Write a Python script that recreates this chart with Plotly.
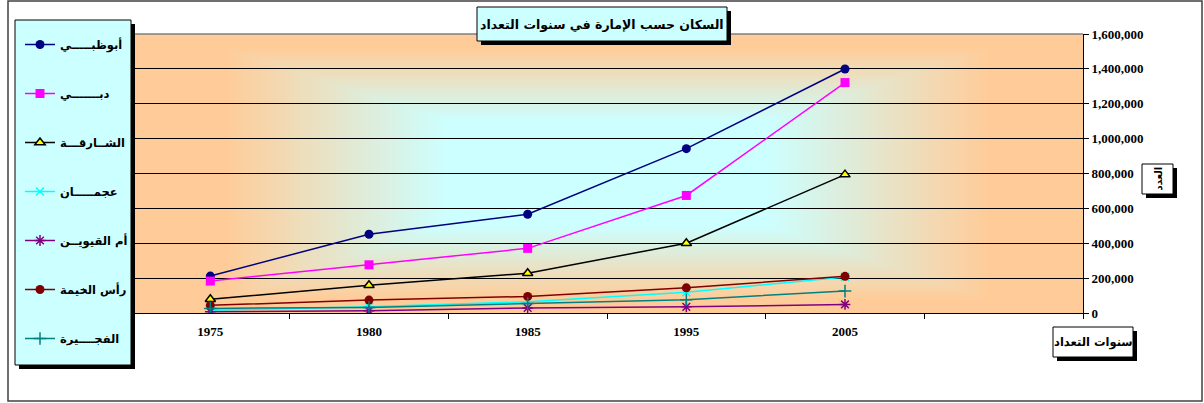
import base64, struct, zlib
import numpy as np
import plotly.graph_objects as go

# ---------------- data ----------------
years = ["1975", "1980", "1985", "1995", "2005"]
x_categories = ["1975", "1980", "1985", "1995", "2005", " "]

abu_dhabi = [211812, 451848, 566036, 942463, 1399484]
dubai = [183187, 276301, 370788, 674101, 1321453]
sharjah = [78790, 159317, 228000, 400339, 793573]
ajman = [16000, 36100, 64318, 118812, 206997]
umm_al_quwain = [6908, 12426, 29229, 35157, 49159]
ras_al_khaimah = [43845, 73918, 95000, 144430, 210063]
fujairah = [26498, 32189, 54425, 76254, 125698]

series_names = ["أبوظبـــــي", "دبـــــــي", "الشــارقـــة", "عجمـــــان",
                "أم القيويــن", "رأس الخيمة", "الفجــــيرة"]

title_text = "السكان حسب الإمارة في سنوات التعداد"
x_title = "سنوات التعداد"
y_title = "العدد"

# ---------------- geometry (pixels) ----------------
W, H = 1204, 403
PL, PR, PT, PB = 131, 1083, 34, 313   # plot area
PW, PH = PR - PL, PB - PT


def px(xp):
    return (xp - PL) / PW


def py(yp):
    return (PB - yp) / PH


# ---------------- gradient background image ----------------
def make_png(arr):
    h, w, _ = arr.shape
    raw = b"".join(b"\x00" + arr[i].tobytes() for i in range(h))

    def chunk(tag, data):
        c = struct.pack(">I", len(data)) + tag + data
        return c + struct.pack(">I", zlib.crc32(tag + data) & 0xFFFFFFFF)

    png = b"\x89PNG\r\n\x1a\n"
    png += chunk(b"IHDR", struct.pack(">IIBBBBB", w, h, 8, 2, 0, 0, 0))
    png += chunk(b"IDAT", zlib.compress(raw, 9))
    png += chunk(b"IEND", b"")
    return png


center_col = np.array([204, 255, 255], dtype=float)
edge_col = np.array([255, 204, 153], dtype=float)
gx = np.linspace(-1, 1, PW)
gy = np.linspace(-1, 1, PH)
U, V = np.meshgrid(gx, gy)
m = np.maximum(np.abs(U) / 0.80, np.abs(V) / 0.90)
t = np.clip((m - 0.42) / 0.58, 0, 1)
img = (center_col[None, None, :] * (1 - t[..., None]) + edge_col[None, None, :] * t[..., None])
img = np.clip(img + 0.5, 0, 255).astype(np.uint8)
img_uri = "data:image/png;base64," + base64.b64encode(make_png(img)).decode()

# ---------------- traces ----------------
styles = [
    dict(line=dict(color="#000080", width=1.5),
         marker=dict(symbol="circle", size=9, color="#000080")),
    dict(line=dict(color="#FF00FF", width=1.5),
         marker=dict(symbol="square", size=9, color="#FF00FF")),
    dict(line=dict(color="#000000", width=1.5),
         marker=dict(symbol="triangle-up", size=9, color="#FFFF00",
                     line=dict(color="#000000", width=1.5))),
    dict(line=dict(color="#00FFFF", width=1.5),
         marker=dict(symbol="x-thin", size=8, color="#00FFFF",
                     line=dict(color="#00FFFF", width=1.5))),
    dict(line=dict(color="#800080", width=1.5),
         marker=dict(symbol="asterisk", size=9, color="#800080",
                     line=dict(color="#800080", width=1.5))),
    dict(line=dict(color="#800000", width=1.5),
         marker=dict(symbol="circle", size=9, color="#800000")),
    dict(line=dict(color="#008080", width=1.5),
         marker=dict(symbol="cross-thin", size=9, color="#008080",
                     line=dict(color="#008080", width=1.5))),
]
values = [abu_dhabi, dubai, sharjah, ajman, umm_al_quwain, ras_al_khaimah, fujairah]

fig = go.Figure()
for i, (name, vals, st) in enumerate(zip(series_names, values, styles)):
    fig.add_trace(go.Scatter(x=years, y=vals, name=name, mode="lines+markers",
                             legendgroup=f"g{i}", hoverinfo="skip", **st))

# ---------------- shapes ----------------
shapes = []
# outer chart border
shapes.append(dict(type="rect", xref="paper", yref="paper",
                   x0=px(8), x1=px(1202), y0=py(401), y1=py(1),
                   line=dict(color="#404040", width=1.5), fillcolor="rgba(0,0,0,0)",
                   layer="below"))
# top plot border
shapes.append(dict(type="line", xref="paper", yref="paper",
                   x0=0, x1=1, y0=1, y1=1, line=dict(color="#808080", width=1.5),
                   layer="above"))


def boxed(x0, y0, x1, y1, fill, off=4):
    return [
        dict(type="rect", xref="paper", yref="paper",
             x0=px(x0 + off), x1=px(x1 + off), y0=py(y1 + off), y1=py(y0 + off),
             line=dict(width=0), fillcolor="#000000", layer="above"),
        dict(type="rect", xref="paper", yref="paper",
             x0=px(x0), x1=px(x1), y0=py(y1), y1=py(y0),
             line=dict(color="#000000", width=1), fillcolor=fill, layer="above"),
    ]


shapes += boxed(15, 20, 131, 365, "#CCFFFF")      # legend box
shapes += boxed(477, 7, 727, 41, "#CCFFFF")       # title box
shapes += boxed(1053, 327, 1133, 357, "#FFFFFF")  # x title box
shapes += boxed(1142, 164, 1173, 194, "#FFFFFF")  # y title box

annotations = [
    dict(text=title_text, xref="paper", yref="paper", x=px(602), y=py(24.5),
         xanchor="center", yanchor="middle", showarrow=False,
         font=dict(family="DejaVu Sans", size=12.5, color="#000000", weight="bold")),
    dict(text=x_title, xref="paper", yref="paper", x=px(1093), y=py(342),
         xanchor="center", yanchor="middle", showarrow=False,
         font=dict(family="DejaVu Sans", size=11.5, color="#000000", weight="bold")),
    dict(text=y_title, xref="paper", yref="paper", x=px(1157.5), y=py(179),
         xanchor="center", yanchor="middle", showarrow=False, textangle=-90,
         font=dict(family="DejaVu Sans", size=10, color="#000000", weight="bold")),
]

fig.update_layout(
    width=W, height=H,
    margin=dict(l=PL, r=W - PR, t=PT, b=H - PB, pad=0, autoexpand=False),
    paper_bgcolor="#FFFFFF",
    plot_bgcolor="#FFCC99",
    showlegend=True,
    legend=dict(x=px(20), y=py(30), xanchor="left", yanchor="top",
                bgcolor="rgba(0,0,0,0)", borderwidth=0, maxheight=400,
                tracegroupgap=30, traceorder="grouped",
                font=dict(family="DejaVu Sans", size=11.5, color="#000000", weight="bold")),
    images=[dict(source=img_uri, xref="paper", yref="paper", x=0, y=1,
                 sizex=1, sizey=1, xanchor="left", yanchor="top",
                 sizing="stretch", layer="below")],
    shapes=shapes,
    annotations=annotations,
    xaxis=dict(type="category", categoryorder="array", categoryarray=x_categories,
               range=[-0.5, 5.5], tickson="boundaries", ticks="outside", ticklen=5,
               tickcolor="#000000", showline=True, linecolor="#000000", linewidth=1,
               showgrid=False, zeroline=False, ticklabelstandoff=6,
               tickfont=dict(family="Liberation Serif", size=13, color="#000000", weight="bold")),
    yaxis=dict(range=[0, 1600000], dtick=200000, tick0=0, side="right",
               tickformat=",d", ticks="outside", ticklen=5, tickcolor="#000000",
               showline=True, linecolor="#000000", linewidth=1,
               showgrid=True, gridcolor="#000000", gridwidth=1, zeroline=False,
               tickfont=dict(family="Liberation Serif", size=13, color="#000000", weight="bold")),
)

fig.write_html("out.html", config={"displayModeBar": False},
               post_script="document.body.style.margin='0';document.body.style.overflow='hidden';")
